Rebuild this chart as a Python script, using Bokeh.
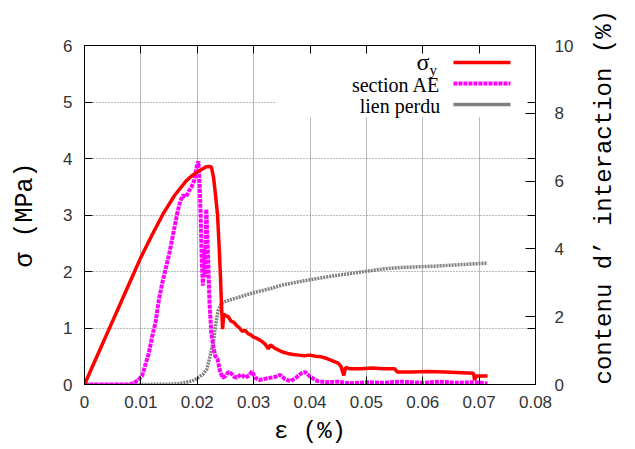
import math
from bokeh.plotting import figure
from bokeh.models import (Range1d, LinearAxis, FixedTicker, CustomJSTickFormatter,
                          BoxAnnotation, Label)
from bokeh.embed import file_html
from bokeh.resources import INLINE

# ---- data ----
eps_sig = [0.0, 0.002, 0.004, 0.006, 0.008, 0.010, 0.012, 0.014, 0.016, 0.018,
           0.019, 0.020, 0.021, 0.0215, 0.022, 0.0225, 0.0229, 0.0233, 0.0236,
           0.0239, 0.0241, 0.0243, 0.0245, 0.0247, 0.0250, 0.0255, 0.0260, 0.0265,
           0.0270, 0.0275, 0.0280, 0.0285, 0.0290, 0.0295, 0.0300, 0.0305, 0.0310,
           0.0315, 0.0320, 0.0326, 0.0330, 0.0335, 0.0340, 0.0350, 0.0360, 0.0370,
           0.0380, 0.0390, 0.0400, 0.0410, 0.0420, 0.0430, 0.0440, 0.0450, 0.0455,
           0.0460, 0.0463, 0.0470, 0.0490, 0.0510, 0.0530, 0.0550, 0.0555, 0.0580,
           0.0610, 0.0640, 0.0670, 0.0690, 0.0692, 0.0695, 0.0705, 0.0715]
sig_y = [0.0, 0.45, 0.90, 1.35, 1.80, 2.25, 2.65, 3.03, 3.35, 3.60,
         3.69, 3.76, 3.82, 3.85, 3.86, 3.85, 3.66, 3.30, 3.00,
         2.40, 1.96, 1.40, 0.98, 1.25, 1.22, 1.20, 1.12, 1.10,
         1.04, 1.00, 0.94, 0.96, 0.90, 0.88, 0.84, 0.82, 0.79,
         0.76, 0.72, 0.63, 0.70, 0.66, 0.63, 0.58, 0.55, 0.53,
         0.52, 0.51, 0.52, 0.50, 0.49, 0.46, 0.42, 0.38, 0.32,
         0.16, 0.30, 0.28, 0.28, 0.29, 0.28, 0.28, 0.22, 0.22,
         0.23, 0.22, 0.21, 0.20, 0.08, 0.15, 0.15, 0.15]

eps_ae = [0.0, 0.004, 0.008, 0.0088, 0.0095, 0.0102, 0.0108, 0.0114, 0.0120, 0.0126,
          0.0132, 0.0138, 0.0144, 0.0150, 0.0155, 0.0160, 0.0165, 0.0170, 0.0175,
          0.0180, 0.0185, 0.0190, 0.0195, 0.0199, 0.0202, 0.0204, 0.0206, 0.0208,
          0.0210, 0.0212, 0.0214, 0.0216, 0.0218, 0.0220, 0.0222, 0.0225, 0.0228,
          0.0232, 0.0236, 0.0240, 0.0245, 0.0250, 0.0255, 0.0260, 0.0265, 0.0270,
          0.0278, 0.0285, 0.0292, 0.0297, 0.0303, 0.0310, 0.0320, 0.0330, 0.0340,
          0.0347, 0.0355, 0.0365, 0.0375, 0.0385, 0.0392, 0.0400, 0.0413, 0.0430,
          0.0450, 0.0470, 0.0500, 0.0530, 0.0560, 0.0600, 0.0630, 0.0660, 0.0690,
          0.0715]
sec_ae = [0.0, 0.0, 0.0, 0.03, 0.08, 0.15, 0.35, 0.55, 0.85, 1.10,
          1.50, 1.80, 2.05, 2.30, 2.55, 2.80, 3.05, 3.25, 3.35,
          3.32, 3.42, 3.50, 3.62, 3.85, 3.95, 3.60, 3.00, 2.20,
          1.75, 2.40, 1.90, 3.10, 2.60, 2.00, 1.40, 0.90, 0.70,
          0.50, 0.45, 0.25, 0.12, 0.15, 0.22, 0.20, 0.14, 0.12,
          0.18, 0.12, 0.16, 0.23, 0.12, 0.08, 0.10, 0.12, 0.14,
          0.17, 0.10, 0.06, 0.12, 0.20, 0.22, 0.14, 0.06, 0.04,
          0.05, 0.02, 0.04, 0.03, 0.05, 0.03, 0.05, 0.03, 0.04,
          0.02]

eps_lien = [0.0, 0.010, 0.015, 0.017, 0.019, 0.020, 0.021, 0.0217, 0.0223, 0.0229,
            0.0233, 0.0237, 0.0243, 0.0250, 0.0259, 0.0275, 0.0290, 0.0310, 0.0330,
            0.0350, 0.0380, 0.0410, 0.0440, 0.0470, 0.0500, 0.0530, 0.0560, 0.0590,
            0.0620, 0.0650, 0.0680, 0.0715]
lien_perdu = [0.0, 0.0, 0.01, 0.03, 0.10, 0.18, 0.30, 0.45, 0.85, 1.30,
              1.80, 2.18, 2.39, 2.45, 2.50, 2.58, 2.66, 2.75, 2.83,
              2.93, 3.03, 3.12, 3.20, 3.27, 3.34, 3.41, 3.45, 3.47,
              3.49, 3.52, 3.55, 3.58]

x_ticks = [0, 0.01, 0.02, 0.03, 0.04, 0.05, 0.06, 0.07, 0.08]
y_ticks = [0, 1, 2, 3, 4, 5, 6]
y2_ticks = [0, 2, 4, 6, 8, 10]

legend_labels = ["section AE", "lien perdu"]
y2_title = "contenu d’ interaction (%)"

TICK_FONT = "Liberation Sans"
MONO = "Liberation Mono"
TXT = "#333333"

p = figure(width=635, height=449, output_backend="svg", toolbar_location=None,
           x_range=Range1d(0, 0.08), y_range=Range1d(0, 6),
           min_border_left=84, min_border_right=100, min_border_top=45,
           min_border_bottom=65)
p.extra_y_ranges = {"y2": Range1d(0, 10)}
p.outline_line_color = "black"
p.outline_line_width = 1
p.background_fill_color = "white"
p.border_fill_color = "white"

xt = FixedTicker(ticks=x_ticks)
yt = FixedTicker(ticks=y_ticks)

# bottom axis
xa = p.xaxis[0]
xa.ticker = xt
xa.formatter = CustomJSTickFormatter(code="return tick == 0 ? '0' : tick.toFixed(2);")
xa.axis_label = "ε (%)"
xa.axis_label_text_font = MONO
xa.axis_label_text_font_size = "24px"
xa.axis_label_text_font_style = "normal"
xa.axis_label_text_color = "black"
xa.axis_label_standoff = 7
xa.major_label_standoff = 11

# left axis
ya = p.yaxis[0]
ya.ticker = yt
ya.axis_label = "σ (MPa)"
ya.axis_label_text_font = MONO
ya.axis_label_text_font_size = "25px"
ya.axis_label_text_font_style = "normal"
ya.axis_label_text_color = "black"
ya.axis_label_standoff = 20
ya.major_label_standoff = 12

for ax in (xa, ya):
    ax.major_label_text_font = TICK_FONT
    ax.major_label_text_font_size = "17px"
    ax.major_label_text_color = TXT
    ax.axis_line_color = "black"
    ax.major_tick_in = 8
    ax.major_tick_out = 0
    ax.major_tick_line_color = "black"
    ax.minor_tick_line_color = None

# top axis (mirrored x ticks only, labels not drawn)
ta = LinearAxis(ticker=xt, major_label_text_color=None, major_label_standoff=0,
                major_tick_in=8, major_tick_out=0, minor_tick_line_color=None,
                axis_line_color="black")
p.add_layout(ta, "above")

# right: mirrored left ticks (labels not drawn), then the y2 axis
rm = LinearAxis(ticker=yt, major_label_text_color=None, major_label_standoff=0,
                major_label_text_font_size="1px",
                major_tick_in=8, major_tick_out=0, minor_tick_line_color=None,
                axis_line_color="black")
p.add_layout(rm, "right")

ra = LinearAxis(y_range_name="y2", ticker=FixedTicker(ticks=y2_ticks),
                axis_label=y2_title,
                axis_label_orientation=-1.5 * math.pi,
                axis_label_align="start",
                axis_label_text_font=MONO,
                axis_label_text_font_size="24px",
                axis_label_text_font_style="normal",
                axis_label_text_color="black",
                axis_label_standoff=28,
                major_label_standoff=19,
                major_label_text_font=TICK_FONT,
                major_label_text_font_size="17px",
                major_label_text_color=TXT,
                major_tick_in=10, major_tick_out=0,
                minor_tick_line_color=None, axis_line_color=None)
p.add_layout(ra, "right")

# grids
p.xgrid.ticker = xt
p.ygrid.ticker = yt
p.xgrid.grid_line_color = "#b8b8b8"
p.xgrid.grid_line_width = 1
p.ygrid.grid_line_color = "#777777"
p.ygrid.grid_line_dash = "1 2"
p.ygrid.grid_line_width = 1

# legend background (covers grid, under curves/ticks)
p.add_layout(BoxAnnotation(left=0.0341, right=0.08, bottom=4.73, top=6,
                           fill_color="white", fill_alpha=1, line_color=None,
                           level="underlay"))

# curves
p.line(eps_lien, lien_perdu, y_range_name="y2", line_color="#808080",
       line_width=3.5, line_dash="2 1")
p.line(eps_ae, sec_ae, line_color="#ff00ff", line_width=4, line_dash="4 1")
p.line(eps_sig, sig_y, line_color="#ff0000", line_width=3.5)

# custom legend (text right, sample left as in reference)
LF = "Liberation Serif"
p.add_layout(Label(x=0.0612, y=5.70, text="σ", text_align="right",
                   text_baseline="middle", text_font=LF, text_font_size="24px",
                   text_color="black"))
p.add_layout(Label(x=0.0612, y=5.56, text="y", text_align="left",
                   text_baseline="middle", text_font=LF, text_font_size="15px",
                   text_color="black"))
p.add_layout(Label(x=0.0631, y=5.30, text=legend_labels[0], text_align="right",
                   text_baseline="middle", text_font=LF, text_font_size="20px",
                   text_color="black"))
p.add_layout(Label(x=0.0631, y=4.93, text=legend_labels[1], text_align="right",
                   text_baseline="middle", text_font=LF, text_font_size="20px",
                   text_color="black"))
p.add_layout(BoxAnnotation(left=0.06545, right=0.07556, bottom=5.70, top=5.70,
                           fill_alpha=0, line_color="#ff0000", line_alpha=1,
                           line_width=3.5))
p.add_layout(BoxAnnotation(left=0.06545, right=0.07556, bottom=5.327, top=5.327,
                           fill_alpha=0, line_color="#ff00ff", line_alpha=1,
                           line_width=4, line_dash="4 1"))
p.add_layout(BoxAnnotation(left=0.06545, right=0.07556, bottom=4.956, top=4.956,
                           fill_alpha=0, line_color="#808080", line_alpha=1,
                           line_width=3.5, line_dash="2 1"))

open("out.html", "w").write(file_html(p, INLINE))
